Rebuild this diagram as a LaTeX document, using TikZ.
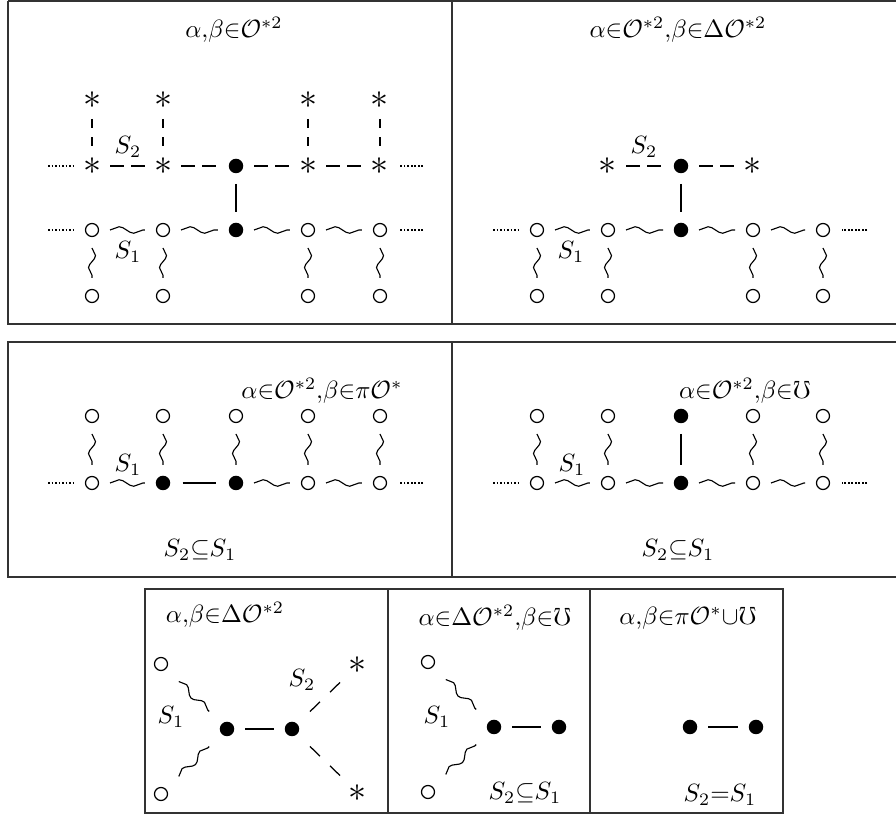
\documentclass[tikz,border=0pt]{standalone}
\usepackage{amssymb}
\usetikzlibrary{calc,decorations.pathmorphing}
\tikzset{
 opn/.style={circle,draw,line width=0.5pt,inner sep=0pt,minimum size=5.2pt},
 fil/.style={circle,fill,inner sep=0pt,minimum size=5.8pt},
 st/.style={inner sep=0pt,font=\fontsize{13.5}{14}\selectfont},
 frm/.style={line width=0.8pt,draw=black!80},
 wigh/.style={decorate,decoration={snake,amplitude=1.3pt,segment length=11.7pt},line width=0.45pt},
 wigv/.style={decorate,decoration={snake,amplitude=1.4pt,segment length=9.7pt},line width=0.45pt},
 wigd/.style={decorate,decoration={snake,amplitude=1.3pt,segment length=10pt},line width=0.45pt},
 dsh/.style={dash pattern=on 5.6pt off 2.8pt,line width=0.5pt},
 dshv/.style={dash pattern=on 3.6pt off 3.8pt,line width=0.5pt},
 dshd/.style={dash pattern=on 5.6pt off 5.6pt,line width=0.5pt},
 sol/.style={line width=0.5pt},
 dotl/.style={dash pattern=on 0.7pt off 0.7pt,line width=0.45pt},
 lab/.style={inner sep=0pt},
 ttl/.style={inner sep=0pt}
}
\newcommand\lnk[4][7.2pt]{\draw[#2] ($(#3)!#1!(#4)$) -- ($(#4)!#1!(#3)$);}
\begin{document}
\begin{tikzpicture}[x=0.4pt,y=-0.4pt]
\useasboundingbox (0,0) rectangle (896,825);
% ---------- frames ----------
\draw[frm] (8,1) -- (900,1);
\draw[frm] (8,1) -- (8,324) -- (900,324);
\draw[frm,line width=1pt] (452,1) -- (452,324);
\draw[frm] (900,342) -- (8,342) -- (8,577) -- (900,577);
\draw[frm,line width=1pt] (452,342) -- (452,577);
\draw[frm] (145,589) rectangle (783,813);
\draw[frm] (388,589) -- (388,813);
\draw[frm] (590,589) -- (590,813);
% ---------- panel A ----------
\node[ttl] (aTit) at (234,30) {$\alpha{,}\beta{\in}\mathcal{O}^{*2}$};
\foreach \i/\x in {1/92,2/163,4/308,5/380}{
 \node[st] (aT\i) at (\x,100) {$\ast$};
 \node[st] (aM\i) at (\x,166) {$\ast$};
 \node[opn] (aL\i) at (\x,230) {};
 \node[opn] (aB\i) at (\x,296) {};
}
\node[fil] (aM3) at (236,166) {};
\node[fil] (aL3) at (236,230) {};
\foreach \i in {1,2,4,5}{\lnk[7.6pt]{dshv}{aT\i}{aM\i}\lnk{wigv}{aL\i}{aB\i}}
\foreach \i/\j in {1/2,2/3,3/4,4/5}{\lnk{dsh}{aM\i}{aM\j}\lnk{wigh}{aL\i}{aL\j}}
\lnk{sol}{aM3}{aL3}
\coordinate (aW1) at (48,166); \coordinate (aE1) at (423,166);
\coordinate (aW2) at (48,230); \coordinate (aE2) at (423,230);
\draw[dotl] (aW1) -- ($(aM1)!7.6pt!(aW1)$);
\draw[dotl] (aE1) -- ($(aM5)!7.6pt!(aE1)$);
\draw[dotl] (aW2) -- ($(aL1)!7.6pt!(aW2)$);
\draw[dotl] (aE2) -- ($(aL5)!7.6pt!(aE2)$);
\node[lab] (aS2) at (128,147) {$S_2$};
\node[lab] (aS1) at (128,252) {$S_1$};
% ---------- panel B ----------
\node[ttl] (bTit) at (678,30) {$\alpha{\in}\mathcal{O}^{*2}{,}\beta{\in}\Delta\mathcal{O}^{*2}$};
\node[st] (bM2) at (608,166) {$\ast$};
\node[fil] (bM3) at (681,166) {};
\node[st] (bM4) at (753,166) {$\ast$};
\foreach \i/\x in {1/537,2/608,4/753,5/823}{
 \node[opn] (bL\i) at (\x,230) {};
 \node[opn] (bB\i) at (\x,296) {};
}
\node[fil] (bL3) at (681,230) {};
\foreach \i in {1,2,4,5}{\lnk{wigv}{bL\i}{bB\i}}
\foreach \i/\j in {1/2,2/3,3/4,4/5}{\lnk{wigh}{bL\i}{bL\j}}
\lnk{dsh}{bM2}{bM3}
\lnk{dsh}{bM3}{bM4}
\lnk{sol}{bM3}{bL3}
\coordinate (bW) at (493,230); \coordinate (bE) at (867,230);
\draw[dotl] (bW) -- ($(bL1)!7.6pt!(bW)$);
\draw[dotl] (bE) -- ($(bL5)!7.6pt!(bE)$);
\node[lab] (bS2) at (644,147) {$S_2$};
\node[lab] (bS1) at (571,252) {$S_1$};
% ---------- panel C ----------
\node[ttl] (cTit) at (322,391) {$\alpha{\in}\mathcal{O}^{*2}{,}\beta{\in}\pi\mathcal{O}^{*}$};
\foreach \i/\x in {1/92,2/163,3/236,4/308,5/380}{\node[opn] (cT\i) at (\x,416) {};}
\node[opn] (cL1) at (92,483) {};
\node[fil] (cL2) at (163,483) {};
\node[fil] (cL3) at (236,483) {};
\node[opn] (cL4) at (308,483) {};
\node[opn] (cL5) at (380,483) {};
\foreach \i in {1,...,5}{\lnk{wigv}{cT\i}{cL\i}}
\lnk{wigh}{cL1}{cL2}
\lnk[7.8pt]{sol}{cL2}{cL3}
\lnk{wigh}{cL3}{cL4}
\lnk{wigh}{cL4}{cL5}
\coordinate (cW) at (48,483); \coordinate (cE) at (423,483);
\draw[dotl] (cW) -- ($(cL1)!7.6pt!(cW)$);
\draw[dotl] (cE) -- ($(cL5)!7.6pt!(cE)$);
\node[lab] (cS1) at (128,465) {$S_1$};
\node[lab] (cS21) at (200,550) {$S_2{\subseteq}S_1$};
% ---------- panel D ----------
\node[ttl] (dTit) at (745,391) {$\alpha{\in}\mathcal{O}^{*2}{,}\beta{\in}\mho$};
\foreach \i/\x in {1/537,2/608,4/753,5/823}{
 \node[opn] (dT\i) at (\x,416) {};
 \node[opn] (dL\i) at (\x,483) {};
}
\node[fil] (dT3) at (681,416) {};
\node[fil] (dL3) at (681,483) {};
\foreach \i in {1,2,4,5}{\lnk{wigv}{dT\i}{dL\i}}
\lnk{sol}{dT3}{dL3}
\foreach \i/\j in {1/2,2/3,3/4,4/5}{\lnk{wigh}{dL\i}{dL\j}}
\coordinate (dW) at (493,483); \coordinate (dE) at (867,483);
\draw[dotl] (dW) -- ($(dL1)!7.6pt!(dW)$);
\draw[dotl] (dE) -- ($(dL5)!7.6pt!(dE)$);
\node[lab] (dS1) at (572,465) {$S_1$};
\node[lab] (dS21) at (678,550) {$S_2{\subseteq}S_1$};
% ---------- panel E ----------
\node[ttl] (eTit) at (225,615) {$\alpha{,}\beta{\in}\Delta\mathcal{O}^{*2}$};
\node[opn] (eC1) at (161,664) {};
\node[opn] (eC2) at (161,794) {};
\node[fil] (eD1) at (227,729) {};
\node[fil] (eD2) at (292,729) {};
\node[st] (eA1) at (358,665) {$\ast$};
\node[st] (eA2) at (358,793) {$\ast$};
\lnk[10pt]{wigd}{eC1}{eD1}
\lnk[10pt]{wigd}{eC2}{eD1}
\lnk{sol}{eD1}{eD2}
\lnk[10pt]{dshd}{eD2}{eA1}
\lnk[10pt]{dshd}{eD2}{eA2}
\node[lab] (eS1) at (171,717) {$S_1$};
\node[lab] (eS2) at (302,680) {$S_2$};
% ---------- panel F ----------
\node[ttl] (fTit) at (495,618) {$\alpha{\in}\Delta\mathcal{O}^{*2}{,}\beta{\in}\mho$};
\node[opn] (fC1) at (428,662) {};
\node[opn] (fC2) at (428,792) {};
\node[fil] (fD1) at (494,727) {};
\node[fil] (fD2) at (559,727) {};
\lnk[10pt]{wigd}{fC1}{fD1}
\lnk[10pt]{wigd}{fC2}{fD1}
\lnk{sol}{fD1}{fD2}
\node[lab] (fS1) at (437,717) {$S_1$};
\node[lab] (fS21) at (525,793) {$S_2{\subseteq}S_1$};
% ---------- panel G ----------
\node[ttl] (gTit) at (688,618) {$\alpha{,}\beta{\in}\pi\mathcal{O}^{*}{\cup}\mho$};
\node[fil] (gD1) at (690,727) {};
\node[fil] (gD2) at (756,727) {};
\lnk{sol}{gD1}{gD2}
\node[lab] (gS21) at (720,795) {$S_2{=}S_1$};
\end{tikzpicture}
\end{document}
